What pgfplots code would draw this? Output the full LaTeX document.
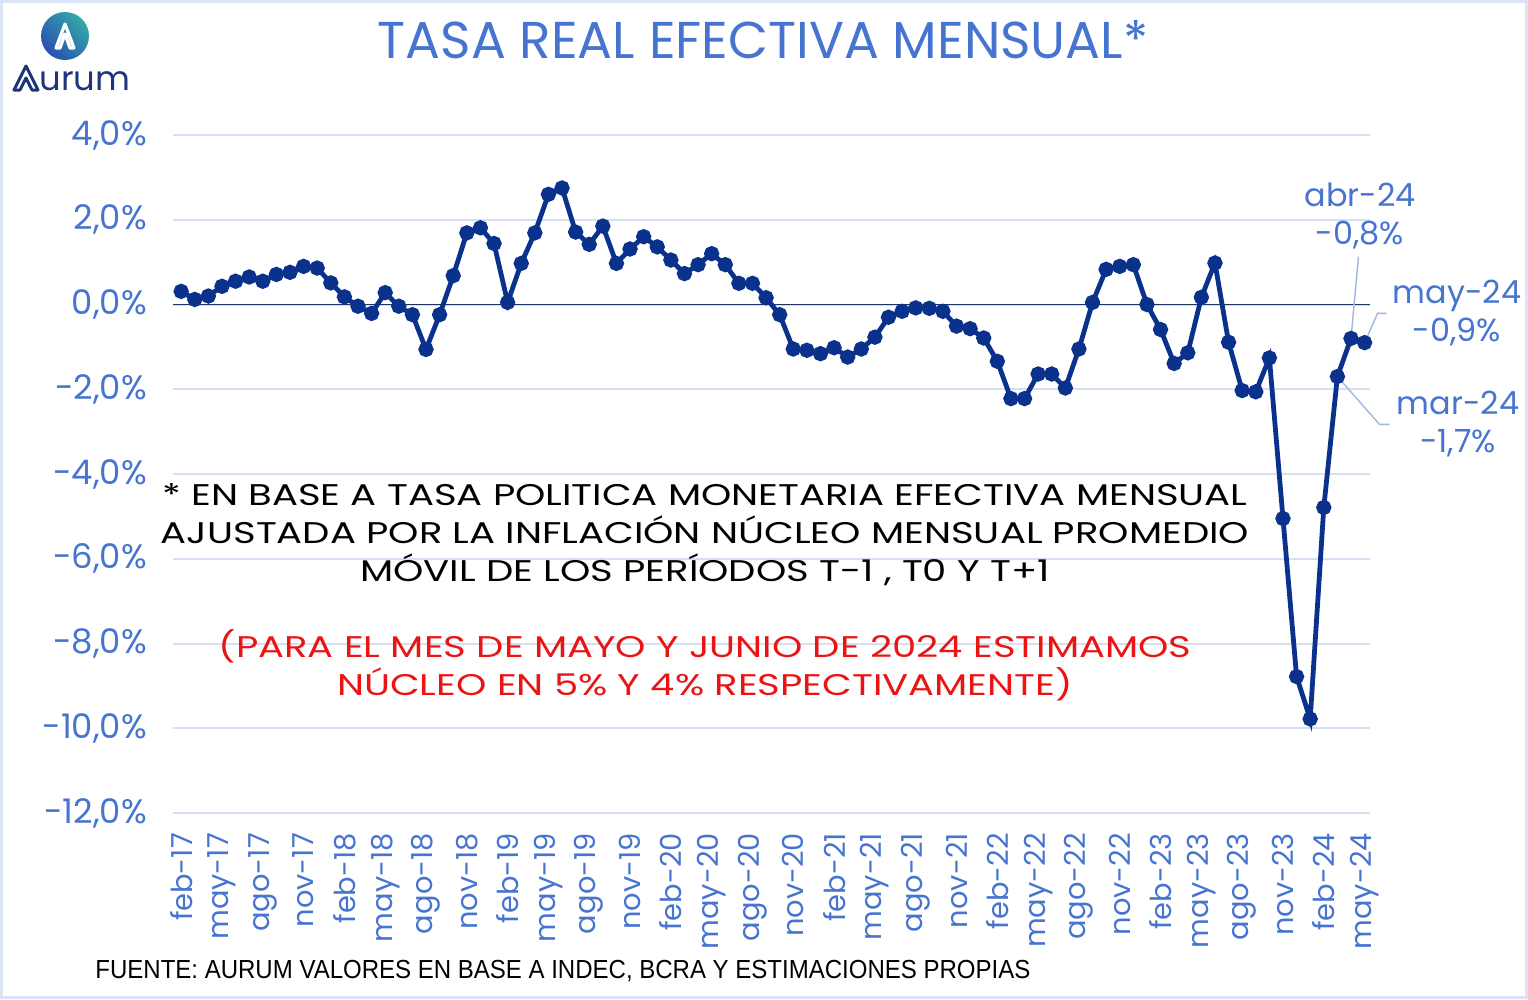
\documentclass[border=0pt]{standalone}
\usepackage{fontspec}
\usepackage{pgfplots}
\pgfplotsset{compat=1.18}
\usepackage{pgfplotstable}
\setmainfont{Poppins}
\newfontfamily\narrowfont{Liberation Sans}[FakeStretch=0.92]

\definecolor{txtblue}{RGB}{70,116,208}
\definecolor{navy}{RGB}{10,50,140}
\definecolor{zeroline}{RGB}{30,52,100}
\definecolor{gridblue}{RGB}{214,224,242}
\definecolor{leader}{RGB}{160,182,228}
\definecolor{frameblue}{RGB}{218,228,246}
\definecolor{logoblue}{RGB}{30,52,125}
\definecolor{logoteal}{RGB}{52,168,170}
\definecolor{logodeep}{RGB}{40,80,175}
\definecolor{notered}{RGB}{235,20,20}

% monthly real rate, feb-17 (0) ... may-24 (87)
\pgfplotstableread{
idx rate
0 0.31
1 0.12
2 0.20
3 0.43
4 0.55
5 0.65
6 0.55
7 0.71
8 0.76
9 0.90
10 0.86
11 0.51
12 0.18
13 -0.04
14 -0.21
15 0.28
16 -0.04
17 -0.24
18 -1.06
19 -0.24
20 0.68
21 1.69
22 1.81
23 1.44
24 0.05
25 0.97
26 1.69
27 2.60
28 2.75
29 1.71
30 1.42
31 1.85
32 0.97
33 1.31
34 1.60
35 1.36
36 1.05
37 0.73
38 0.94
39 1.20
40 0.94
41 0.50
42 0.50
43 0.16
44 -0.24
45 -1.05
46 -1.08
47 -1.16
48 -1.02
49 -1.24
50 -1.05
51 -0.77
52 -0.30
53 -0.16
54 -0.08
55 -0.09
56 -0.16
57 -0.51
58 -0.57
59 -0.79
60 -1.34
61 -2.22
62 -2.22
63 -1.64
64 -1.64
65 -1.97
66 -1.05
67 0.05
68 0.83
69 0.90
70 0.94
71 0.00
72 -0.59
73 -1.39
74 -1.14
75 0.17
76 0.98
77 -0.89
78 -2.03
79 -2.06
80 -1.26
81 -5.05
82 -8.78
83 -9.78
84 -4.79
85 -1.70
86 -0.80
87 -0.90
}\ratetable

\begin{document}
\begin{tikzpicture}[x=0.5bp,y=-0.5bp]
\path[use as bounding box] (0,0) rectangle (1528,999);
\draw[frameblue, line width=1.5bp] (1.5,1.5) rectangle (1526.5,997.5);

\begin{axis}[
  at={(86.5bp,-406.5bp)}, anchor=south west,
  scale only axis, width=598.5bp, height=339bp,
  xmin=-0.6, xmax=87.4, ymin=-12, ymax=4,
  clip=false,
  axis line style={draw=none},
  tick style={draw=none},
  ymajorgrids, grid style={gridblue, line width=1bp},
  ytick={-12,-10,...,4},
  yticklabels={{-12,0\%},{-10,0\%},{-8,0\%},{-6,0\%},{-4,0\%},{-2,0\%},{0,0\%},{2,0\%},{4,0\%}},
  yticklabel style={font=\fontsize{17}{19}\selectfont, color=txtblue, xshift=-9.5bp},
  xtick={0,3,...,87},
  xticklabels={feb-17,may-17,ago-17,nov-17,feb-18,may-18,ago-18,nov-18,feb-19,may-19,ago-19,nov-19,feb-20,may-20,ago-20,nov-20,feb-21,may-21,ago-21,nov-21,feb-22,may-22,ago-22,nov-22,feb-23,may-23,ago-23,nov-23,feb-24,may-24},
  xticklabel style={rotate=90, anchor=east, font=\fontsize{14.5}{16}\selectfont, color=txtblue, xshift=-6.5bp},
]
\draw[zeroline, line width=0.9bp] (axis cs:-0.6,0) -- (axis cs:87.4,0);
\addplot[color=navy, line width=2.4bp, mark=*, mark size=2.6bp, mark options={solid, fill=navy}] table[x=idx, y=rate] {\ratetable};
% leader lines to the labelled months
\draw[leader, line width=0.7bp] (axis cs:86.55,1.13) -- (axis cs:86,-0.8);
\draw[leader, line width=0.7bp] (axis cs:88.61,-0.21) -- (axis cs:87.95,-0.21) -- (axis cs:87,-0.9);
\draw[leader, line width=0.7bp] (axis cs:85,-1.7) -- (axis cs:88.10,-2.83) -- (axis cs:88.83,-2.83);
\end{axis}

% value labels
\begin{scope}[every node/.style={color=txtblue, font=\fontsize{16}{19}\selectfont, align=center, inner sep=0pt}]
\node at (1360,216) {abr-24\\-0,8\%};
\node at (1457,313) {may-24\\-0,9\%};
\node at (1458,424) {mar-24\\-1,7\%};
\end{scope}

% title
\node[color=txtblue, font=\fontsize{26}{29}\selectfont, inner sep=0pt] at (763,40) {TASA REAL EFECTIVA MENSUAL*};

% notes
\node[xscale=1.29, font=\fontsize{15}{19}\selectfont, align=center, inner sep=0pt] at (705,535)
  {* EN BASE A TASA POLITICA MONETARIA EFECTIVA MENSUAL\\AJUSTADA POR LA INFLACIÓN NÚCLEO MENSUAL PROMEDIO\\MÓVIL DE LOS PERÍODOS T-1 , T0 Y T+1};
\node[xscale=1.29, color=notered, font=\fontsize{15}{19}\selectfont, align=center, inner sep=0pt] at (705,665)
  {(PARA EL MES DE MAYO Y JUNIO DE 2024 ESTIMAMOS\\NÚCLEO EN 5\% Y 4\% RESPECTIVAMENTE)};

% source
\node[anchor=west, font=\narrowfont\fontsize{13.1}{15}\selectfont, inner sep=0pt] at (95,971)
  {FUENTE: AURUM VALORES EN BASE A INDEC, BCRA Y ESTIMACIONES PROPIAS};

% logo
\shade[left color=logodeep, right color=logoteal, shading angle=135] (65,36) circle (24);
\draw[white, line width=1.6bp, line join=round, line cap=round] (56,48) -- (65,24) -- (74,48) -- (70,48) -- (65,34) -- (60,48) -- cycle;
\draw[logoblue, line width=1.5bp, line join=round, line cap=round] (14,90) -- (26,66) -- (38,90) -- (32,90) -- (26,78) -- (20,90) -- cycle;
\node[anchor=base west, color=logoblue, font=\fontsize{17}{19}\selectfont, inner sep=0pt] at (39,90) {urum};
\end{tikzpicture}
\end{document}
